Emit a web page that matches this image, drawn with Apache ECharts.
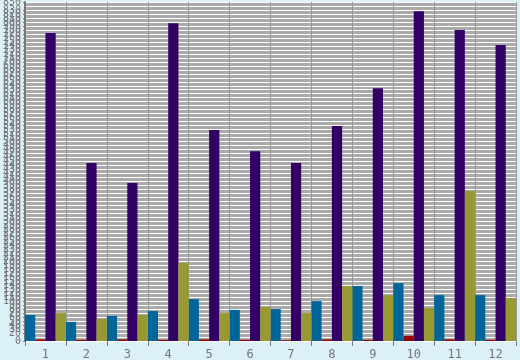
<!DOCTYPE html>
<html><head><meta charset="utf-8">
<script src="https://cdn.jsdelivr.net/npm/echarts@6/dist/echarts.min.js"></script>
<style>html,body{margin:0;padding:0;background:#dbf0f7;}#c{width:520px;height:360px;}</style>
</head><body><div id="c"></div>
<script>
var categories = ['1','2','3','4','5','6','7','8','9','10','11','12'];
var blueValues   = [65, 48, 63, 75, 105, 78, 80, 100, 138, 145, 115, 115];
var redValues    = [4, 3, 4, 3, 4, 3, 2, 4, 3, 13, 4, 3];
var purpleValues = [772, 446, 396, 797, 529, 476, 446, 539, 634, 827, 780, 742];
var oliveValues  = [70, 55, 65, 196, 70, 85, 70, 138, 115, 83, 376, 108];
var yMax = 850, yStep = 10;

var chart = echarts.init(document.getElementById('c'), null, {renderer:'canvas'});
function bar(name, data, color){
  return {name:name, type:'bar', data:data, barGap:'0%', barCategoryGap:'0%',
    itemStyle:{color:color}, animation:false};
}
chart.setOption({
  backgroundColor:'#dbf0f7',
  animation:false,
  grid:{left:25, right:4, top:2, bottom:19, show:true, backgroundColor:'#aaaaaa', borderWidth:0,
    containLabel:false, outerBoundsMode:'none'},
  xAxis:{type:'category', data:categories,
    axisLine:{show:false},
    axisTick:{show:true, length:5, lineStyle:{color:'#777'}},
    splitLine:{show:true, lineStyle:{color:'#999999', width:1}},
    axisLabel:{color:'#777', fontFamily:'DejaVu Sans Mono', fontSize:12, margin:8}
  },
  yAxis:{type:'value', min:0, max:yMax, interval:yStep,
    axisLine:{show:true, lineStyle:{color:'#777', width:2}},
    axisTick:{show:true, length:2, lineStyle:{color:'#777'}},
    splitLine:{show:true, lineStyle:{color:'#ffffff', width:1}},
    axisLabel:{color:'#777', fontFamily:'DejaVu Sans Mono', fontSize:10, margin:4, showMinLabel:true, showMaxLabel:true}
  },
  series:[
    bar('blue', blueValues, '#006699'),
    bar('red', redValues, '#990000'),
    bar('purple', purpleValues, '#330066'),
    bar('olive', oliveValues, '#999933')
  ]
});
</script></body></html>
